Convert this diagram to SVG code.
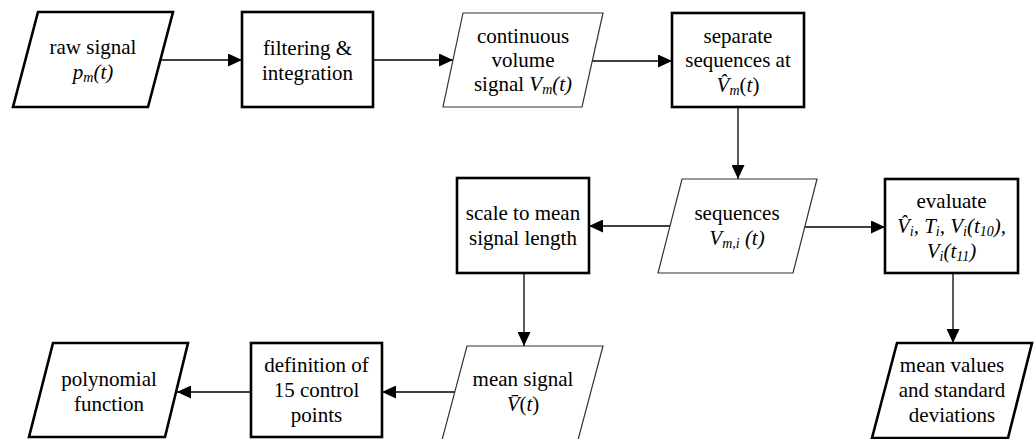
<svg xmlns="http://www.w3.org/2000/svg" width="1035" height="439" viewBox="0 0 1035 439">
<defs>
<marker id="ah" markerUnits="userSpaceOnUse" markerWidth="15" markerHeight="13" refX="14" refY="6.5" orient="auto">
<path d="M0,0 L14,6.5 L0,13 Z" fill="#000"/>
</marker>
<style>
.thick{fill:#fff;stroke:#000;stroke-width:2.6}
.thin{fill:#fff;stroke:#333;stroke-width:1.2}
.edge{fill:none;stroke:#000;stroke-width:1.3;marker-end:url(#ah)}
text{font-family:"Liberation Serif","Times New Roman",serif;font-size:21px;fill:#000;text-anchor:middle}
.it{font-style:italic}
.sb{font-size:14px}
</style>
</defs>
<rect width="1035" height="439" fill="#fff"/>
<g id="connectors">
<path class="edge" d="M160,60 H242"/>
<path class="edge" d="M373,60 H453"/>
<path class="edge" d="M592,61 H672"/>
<path class="edge" d="M738,107 V179"/>
<path class="edge" d="M670,226 H589"/>
<path class="edge" d="M805,227 H885"/>
<path class="edge" d="M524,273 V346"/>
<path class="edge" d="M455,392 H382"/>
<path class="edge" d="M251,392 H177"/>
<path class="edge" d="M953,273 V343"/>
</g>
<g id="raw-signal">
<polygon class="thick" points="38,12 173,12 148,107 13,107"/>
<text x="93" y="54">raw signal</text>
<text x="93" y="79" class="it">p<tspan class="sb" dy="3">m</tspan><tspan dy="-3">(t)</tspan></text>
</g>
<g id="filtering">
<rect class="thick" x="242" y="12" width="131" height="95"/>
<text x="307.5" y="55">filtering &amp;</text>
<text x="307.5" y="80">integration</text>
</g>
<g id="continuous-volume">
<polygon class="thin" points="463,13 603,13 582,107 443,107"/>
<text x="523" y="43">continuous</text>
<text x="523" y="67">volume</text>
<text x="523" y="91">signal <tspan class="it">V</tspan><tspan class="sb it" dy="3">m</tspan><tspan class="it" dy="-3">(t)</tspan></text>
</g>
<g id="separate-sequences">
<rect class="thick" x="672" y="13" width="132" height="94"/>
<text x="738" y="43">separate</text>
<text x="738" y="67">sequences at</text>
<text x="738" y="92"><tspan class="it">V̂</tspan><tspan class="sb it" dy="3">m</tspan><tspan dy="-3">(</tspan><tspan class="it">t</tspan>)</text>
</g>
<g id="sequences">
<polygon class="thin" points="682,179 817,179 793,273 658,273"/>
<text x="737" y="220">sequences</text>
<text x="737" y="245" class="it">V<tspan class="sb" dy="3">m,i</tspan><tspan dy="-3"> (t)</tspan></text>
</g>
<g id="scale-to-mean">
<rect class="thick" x="457" y="178" width="132" height="95"/>
<text x="523" y="220">scale to mean</text>
<text x="523" y="245">signal length</text>
</g>
<g id="evaluate">
<rect class="thick" x="885" y="179" width="133" height="94"/>
<text x="951.5" y="208">evaluate</text>
<text x="951.5" y="233" class="it">V̂<tspan class="sb" dy="3">i</tspan><tspan dy="-3">, T</tspan><tspan class="sb" dy="3">i</tspan><tspan dy="-3">, V</tspan><tspan class="sb" dy="3">i</tspan><tspan dy="-3">(t</tspan><tspan class="sb" dy="3">10</tspan><tspan dy="-3">),</tspan></text>
<text x="951.5" y="258" class="it">V<tspan class="sb" dy="3">i</tspan><tspan dy="-3">(t</tspan><tspan class="sb" dy="3">11</tspan><tspan dy="-3">)</tspan></text>
</g>
<g id="mean-signal">
<polygon class="thin" points="467,346 603,346 578,440 442,440"/>
<text x="523" y="386">mean signal</text>
<text x="523" y="411"><tspan class="it">V̄</tspan>(<tspan class="it">t</tspan>)</text>
</g>
<g id="mean-values">
<polygon class="thick" points="897,343 1032,343 1008,438 872,438"/>
<text x="952" y="372">mean values</text>
<text x="952" y="397">and standard</text>
<text x="952" y="422">deviations</text>
</g>
<g id="definition">
<rect class="thick" x="251" y="343" width="131" height="94"/>
<text x="316.5" y="372">definition of</text>
<text x="316.5" y="397">15 control</text>
<text x="316.5" y="422">points</text>
</g>
<g id="polynomial">
<polygon class="thick" points="53,343 188,343 165,437 29,437"/>
<text x="109" y="386">polynomial</text>
<text x="109" y="411">function</text>
</g>
</svg>
